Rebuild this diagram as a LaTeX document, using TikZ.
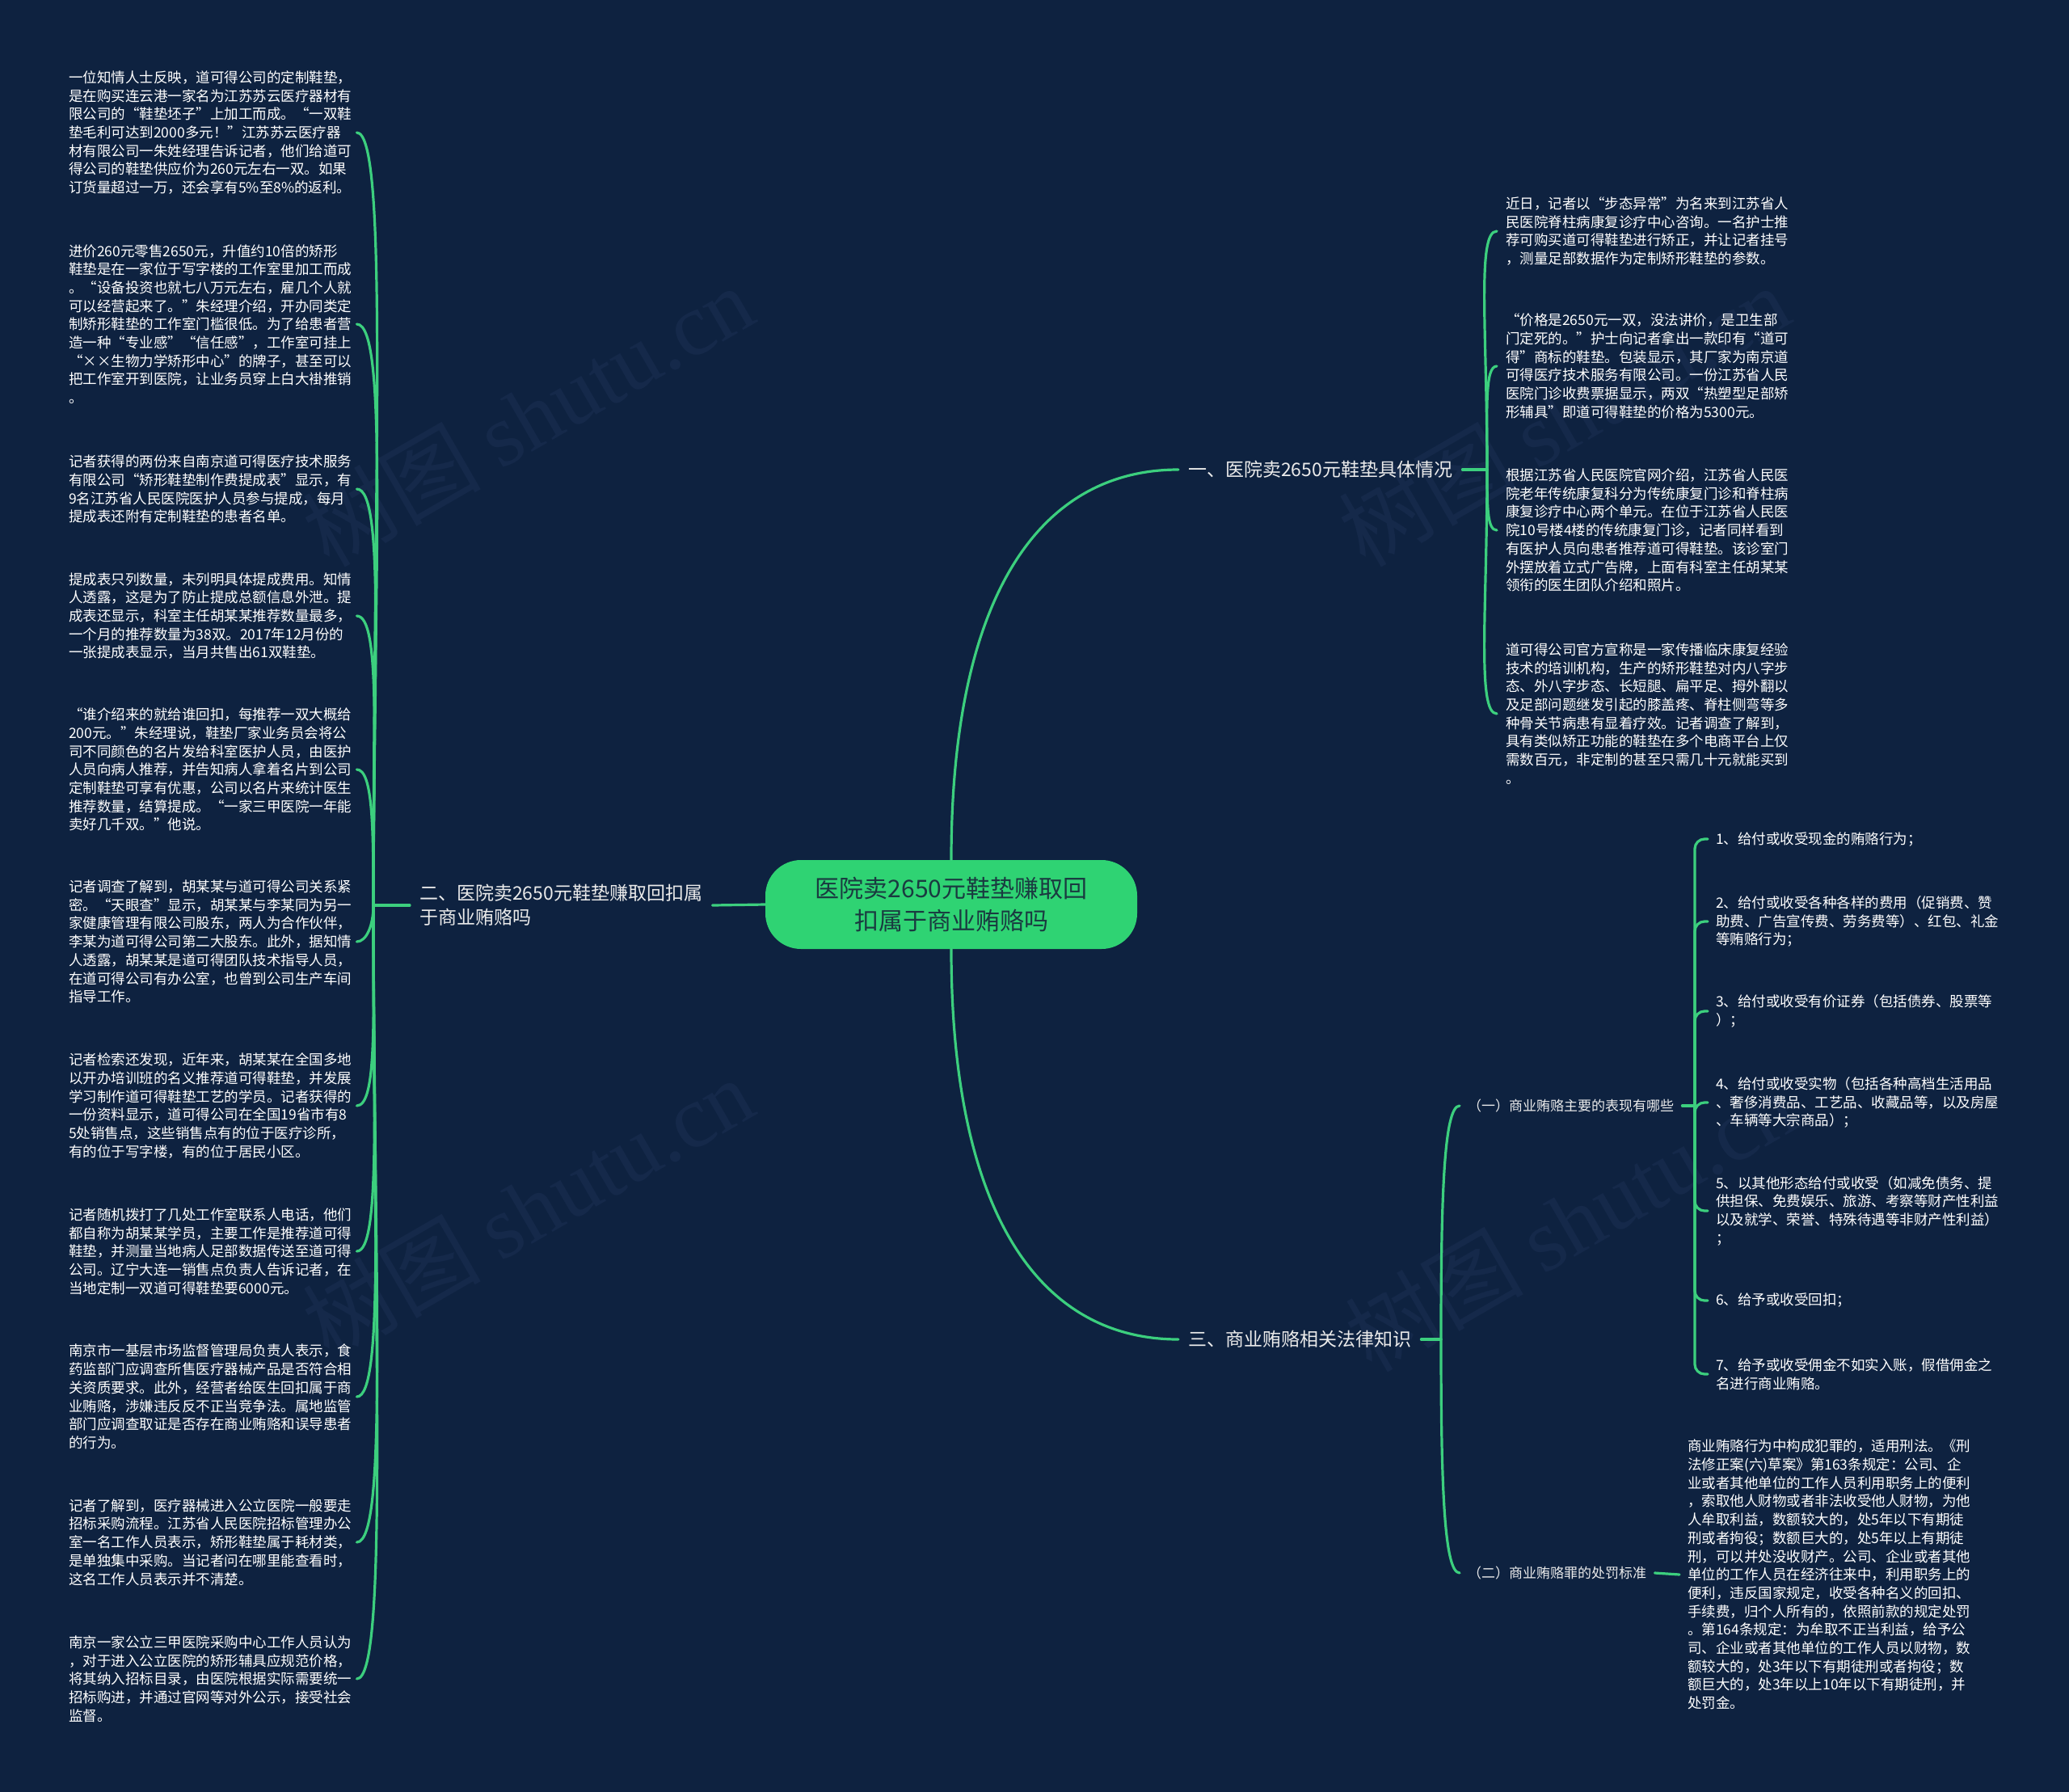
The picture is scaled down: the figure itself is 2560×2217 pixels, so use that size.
\documentclass[tikz,border=0pt]{standalone}
\usepackage{fontspec}
\setmainfont{Noto Sans CJK SC}
\newfontfamily\wmlatin{Liberation Serif}
\definecolor{bgc}{HTML}{0E2240}
\definecolor{linec}{HTML}{3CCF7E}
\definecolor{rootfill}{HTML}{2FD373}
\definecolor{roottext}{HTML}{1A3A40}
\definecolor{wmc}{HTML}{15294A}
\begin{document}
\begin{tikzpicture}[x=1pt,y=1pt,
  conn/.style={draw=linec,line width=3.2pt,line cap=round},
  leaf/.style={anchor=west,align=left,text=white,inner ysep=0pt,inner xsep=4pt,text width=352pt,font=\fontsize{17.5pt}{22.7pt}\selectfont},
  rleaf/.style={leaf,inner xsep=11pt},
  item/.style={leaf,inner xsep=10pt,text width=362pt},
  branch/.style={anchor=west,align=left,text={white!92!black},inner xsep=12pt,inner ysep=2pt,font=\fontsize{23pt}{30pt}\selectfont},
  sub/.style={anchor=west,align=left,text={white!92!black},inner xsep=10pt,inner ysep=2pt,font=\fontsize{17pt}{22pt}\selectfont},
  rootbox/.style={fill=rootfill,rounded corners=44pt,minimum width=460pt,minimum height=110pt,align=center,text=roottext,inner sep=0pt,font=\fontsize{30pt}{40pt}\selectfont},
  wm/.style={text=wmc,rotate=30,font=\fontsize{110pt}{120pt}\selectfont}
]
\useasboundingbox (0,0) rectangle (2560,-2217);
\fill[bgc] (0,0) rectangle (2560,-2217);

% watermarks
\node[wm] (wm1) at (653,-514) {树图 {\wmlatin shutu.cn}};
\node[wm] (wm2) at (653,-1494) {树图 {\wmlatin shutu.cn}};
\node[wm] (wm3) at (1935,-514) {树图 {\wmlatin shutu.cn}};
\node[wm] (wm4) at (1943,-1510) {树图 {\wmlatin shutu.cn}};

% root
\node[rootbox] (root) at (1177,-1119) {医院卖2650元鞋垫赚取回\\扣属于商业贿赂吗};

% branch labels
\node[branch] (b1) at (1458,-581) {一、医院卖2650元鞋垫具体情况};
\node[branch] (b3) at (1458,-1657) {三、商业贿赂相关法律知识};
\node[branch,inner ysep=0pt] (b2) at (507,-1120) {二、医院卖2650元鞋垫赚取回扣属\\于商业贿赂吗};

\coordinate (h1) at (1840,-581);
\coordinate (h3) at (1783,-1657);
\coordinate (h2) at (462,-1120);
\coordinate (h4) at (2097,-1368);

% root connectors
\draw[conn] (root.north) to[out=90,in=180,out distance=330pt,in distance=170pt] (b1.west);
\draw[conn] (root.south) to[out=-90,in=180,out distance=330pt,in distance=170pt] (b3.west);
\draw[conn] (root.west) -- (b2.east);
\draw[conn] (b1.east) -- (h1);
\draw[conn] (b3.east) -- (h3);
\draw[conn] (b2.west) -- (h2);

% left leaves
\node[leaf] (l1) at (81,-164) {一位知情人士反映，道可得公司的定制鞋垫，\\是在购买连云港一家名为江苏苏云医疗器材有\\限公司的“鞋垫坯子”上加工而成。“一双鞋\\垫毛利可达到2000多元！”江苏苏云医疗器\\材有限公司一朱姓经理告诉记者，他们给道可\\得公司的鞋垫供应价为260元左右一双。如果\\订货量超过一万，还会享有5\%至8\%的返利。};
\node[leaf] (l2) at (81,-401) {进价260元零售2650元，升值约10倍的矫形\\鞋垫是在一家位于写字楼的工作室里加工而成\\。“设备投资也就七八万元左右，雇几个人就\\可以经营起来了。”朱经理介绍，开办同类定\\制矫形鞋垫的工作室门槛很低。为了给患者营\\造一种“专业感”“信任感”，工作室可挂上\\“××生物力学矫形中心”的牌子，甚至可以\\把工作室开到医院，让业务员穿上白大褂推销\\。};
\node[leaf] (l3) at (81,-605) {记者获得的两份来自南京道可得医疗技术服务\\有限公司“矫形鞋垫制作费提成表”显示，有\\9名江苏省人民医院医护人员参与提成，每月\\提成表还附有定制鞋垫的患者名单。};
\node[leaf] (l4) at (81,-762) {提成表只列数量，未列明具体提成费用。知情\\人透露，这是为了防止提成总额信息外泄。提\\成表还显示，科室主任胡某某推荐数量最多，\\一个月的推荐数量为38双。2017年12月份的\\一张提成表显示，当月共售出61双鞋垫。};
\node[leaf] (l5) at (81,-952) {“谁介绍来的就给谁回扣，每推荐一双大概给\\200元。”朱经理说，鞋垫厂家业务员会将公\\司不同颜色的名片发给科室医护人员，由医护\\人员向病人推荐，并告知病人拿着名片到公司\\定制鞋垫可享有优惠，公司以名片来统计医生\\推荐数量，结算提成。“一家三甲医院一年能\\卖好几千双。”他说。};
\node[leaf] (l6) at (81,-1165) {记者调查了解到，胡某某与道可得公司关系紧\\密。“天眼查”显示，胡某某与李某同为另一\\家健康管理有限公司股东，两人为合作伙伴，\\李某为道可得公司第二大股东。此外，据知情\\人透露，胡某某是道可得团队技术指导人员，\\在道可得公司有办公室，也曾到公司生产车间\\指导工作。};
\node[leaf] (l7) at (81,-1368) {记者检索还发现，近年来，胡某某在全国多地\\以开办培训班的名义推荐道可得鞋垫，并发展\\学习制作道可得鞋垫工艺的学员。记者获得的\\一份资料显示，道可得公司在全国19省市有8\\5处销售点，这些销售点有的位于医疗诊所，\\有的位于写字楼，有的位于居民小区。};
\node[leaf] (l8) at (81,-1548) {记者随机拨打了几处工作室联系人电话，他们\\都自称为胡某某学员，主要工作是推荐道可得\\鞋垫，并测量当地病人足部数据传送至道可得\\公司。辽宁大连一销售点负责人告诉记者，在\\当地定制一双道可得鞋垫要6000元。};
\node[leaf] (l9) at (81,-1728) {南京市一基层市场监督管理局负责人表示，食\\药监部门应调查所售医疗器械产品是否符合相\\关资质要求。此外，经营者给医生回扣属于商\\业贿赂，涉嫌违反反不正当竞争法。属地监管\\部门应调查取证是否存在商业贿赂和误导患者\\的行为。};
\node[leaf] (l10) at (81,-1908) {记者了解到，医疗器械进入公立医院一般要走\\招标采购流程。江苏省人民医院招标管理办公\\室一名工作人员表示，矫形鞋垫属于耗材类，\\是单独集中采购。当记者问在哪里能查看时，\\这名工作人员表示并不清楚。};
\node[leaf] (l11) at (81,-2077) {南京一家公立三甲医院采购中心工作人员认为\\，对于进入公立医院的矫形辅具应规范价格，\\将其纳入招标目录，由医院根据实际需要统一\\招标购进，并通过官网等对外公示，接受社会\\监督。};

\draw[conn] (h2) to[out=90,in=0,out distance=520pt,in distance=40pt] (l1.east);
\draw[conn] (h2) to[out=90,in=0,out distance=400pt,in distance=40pt] (l2.east);
\draw[conn] (h2) to[out=90,in=0,out distance=290pt,in distance=35pt] (l3.east);
\draw[conn] (h2) to[out=90,in=0,out distance=200pt,in distance=30pt] (l4.east);
\draw[conn] (h2) to[out=90,in=0,out distance=95pt,in distance=20pt] (l5.east);
\draw[conn] (h2) to[out=-90,in=0,out distance=25pt,in distance=12pt] (l6.east);
\draw[conn] (h2) to[out=-90,in=0,out distance=140pt,in distance=25pt] (l7.east);
\draw[conn] (h2) to[out=-90,in=0,out distance=240pt,in distance=30pt] (l8.east);
\draw[conn] (h2) to[out=-90,in=0,out distance=340pt,in distance=35pt] (l9.east);
\draw[conn] (h2) to[out=-90,in=0,out distance=440pt,in distance=40pt] (l10.east);
\draw[conn] (h2) to[out=-90,in=0,out distance=520pt,in distance=40pt] (l11.east);

% right top leaves
\node[rleaf] (r1) at (1852,-286) {近日，记者以“步态异常”为名来到江苏省人\\民医院脊柱病康复诊疗中心咨询。一名护士推\\荐可购买道可得鞋垫进行矫正，并让记者挂号\\，测量足部数据作为定制矫形鞋垫的参数。};
\node[rleaf] (r2) at (1852,-453) {“价格是2650元一双，没法讲价，是卫生部\\门定死的。”护士向记者拿出一款印有“道可\\得”商标的鞋垫。包装显示，其厂家为南京道\\可得医疗技术服务有限公司。一份江苏省人民\\医院门诊收费票据显示，两双“热塑型足部矫\\形辅具”即道可得鞋垫的价格为5300元。};
\node[rleaf] (r3) at (1852,-656) {根据江苏省人民医院官网介绍，江苏省人民医\\院老年传统康复科分为传统康复门诊和脊柱病\\康复诊疗中心两个单元。在位于江苏省人民医\\院10号楼4楼的传统康复门诊，记者同样看到\\有医护人员向患者推荐道可得鞋垫。该诊室门\\外摆放着立式广告牌，上面有科室主任胡某某\\领衔的医生团队介绍和照片。};
\node[rleaf] (r4) at (1852,-883) {道可得公司官方宣称是一家传播临床康复经验\\技术的培训机构，生产的矫形鞋垫对内八字步\\态、外八字步态、长短腿、扁平足、拇外翻以\\及足部问题继发引起的膝盖疼、脊柱侧弯等多\\种骨关节病患有显着疗效。记者调查了解到，\\具有类似矫正功能的鞋垫在多个电商平台上仅\\需数百元，非定制的甚至只需几十元就能买到\\。};

\draw[conn] (h1) to[out=90,in=180,out distance=170pt,in distance=25pt] (r1.west);
\draw[conn] (h1) to[out=90,in=180,out distance=75pt,in distance=15pt] (r2.west);
\draw[conn] (h1) to[out=-90,in=180,out distance=45pt,in distance=12pt] (r3.west);
\draw[conn] (h1) to[out=-90,in=180,out distance=170pt,in distance=25pt] (r4.west);

% branch 3 subs
\node[sub] (s1) at (1806,-1368) {（一）商业贿赂主要的表现有哪些};
\node[sub] (s2) at (1806,-1946) {（二）商业贿赂罪的处罚标准};
\draw[conn] (h3) to[out=90,in=180,out distance=170pt,in distance=20pt] (s1.west);
\draw[conn] (h3) to[out=-90,in=180,out distance=170pt,in distance=20pt] (s2.west);
\draw[conn] (s1.east) -- (h4);

% items
\node[item] (i1) at (2113,-1038) {1、给付或收受现金的贿赂行为；};
\node[item] (i2) at (2113,-1140) {2、给付或收受各种各样的费用（促销费、赞\\助费、广告宣传费、劳务费等）、红包、礼金\\等贿赂行为；};
\node[item] (i3) at (2113,-1251) {3、给付或收受有价证券（包括债券、股票等\\）；};
\node[item] (i4) at (2113,-1364) {4、给付或收受实物（包括各种高档生活用品\\、奢侈消费品、工艺品、收藏品等，以及房屋\\、车辆等大宗商品）；};
\node[item] (i5) at (2113,-1498) {5、以其他形态给付或收受（如减免债务、提\\供担保、免费娱乐、旅游、考察等财产性利益\\以及就学、荣誉、特殊待遇等非财产性利益）\\；};
\node[item] (i6) at (2113,-1609) {6、给予或收受回扣；};
\node[item] (i7) at (2113,-1700) {7、给予或收受佣金不如实入账，假借佣金之\\名进行商业贿赂。};
\foreach \n in {i1,i2,i3,i4,i5,i6,i7}
  \draw[conn,rounded corners=12pt] (h4) |- (\n.west);

% law text
\node[item,inner xsep=10pt,text width=352pt] (law) at (2078,-1948) {商业贿赂行为中构成犯罪的，适用刑法。《刑\\法修正案(六)草案》第163条规定：公司、企\\业或者其他单位的工作人员利用职务上的便利\\，索取他人财物或者非法收受他人财物，为他\\人牟取利益，数额较大的，处5年以下有期徒\\刑或者拘役；数额巨大的，处5年以上有期徒\\刑，可以并处没收财产。公司、企业或者其他\\单位的工作人员在经济往来中，利用职务上的\\便利，违反国家规定，收受各种名义的回扣、\\手续费，归个人所有的，依照前款的规定处罚\\。第164条规定：为牟取不正当利益，给予公\\司、企业或者其他单位的工作人员以财物，数\\额较大的，处3年以下有期徒刑或者拘役；数\\额巨大的，处3年以上10年以下有期徒刑，并\\处罚金。};
\draw[conn] (s2.east) -- (law.west);
\end{tikzpicture}
\end{document}
